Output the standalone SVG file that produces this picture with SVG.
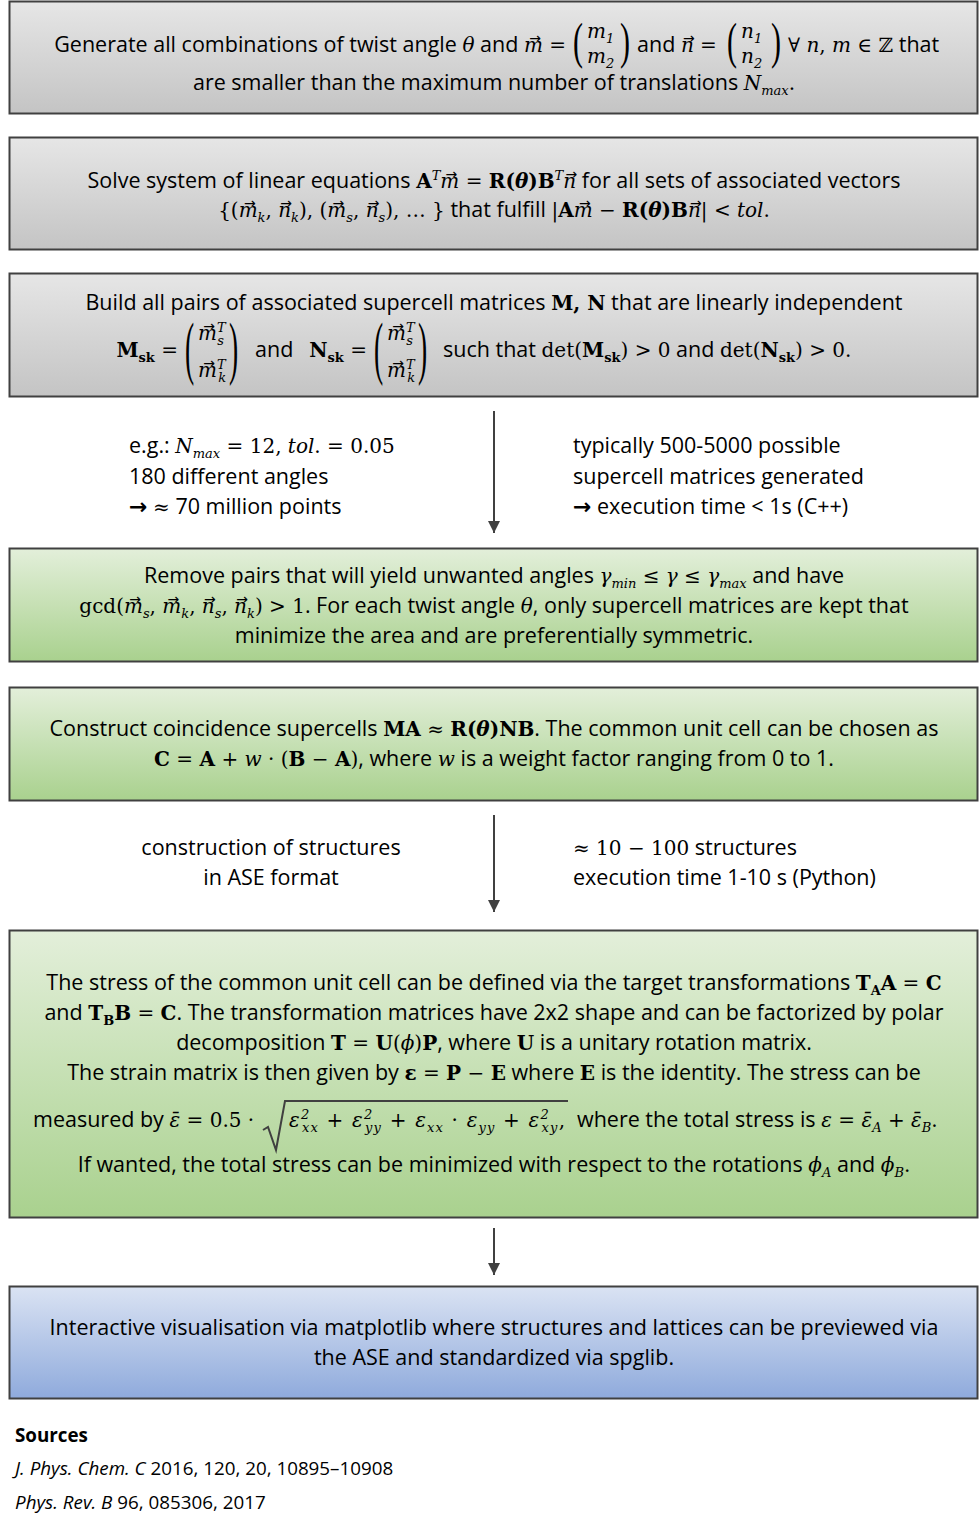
<svg xmlns="http://www.w3.org/2000/svg" width="979" height="1528" viewBox="0 0 979 1528">
<defs>
<linearGradient id="gGray" x1="0" y1="0" x2="0" y2="1"><stop offset="0" stop-color="#e6e6e6"/><stop offset="1" stop-color="#c4c4c4"/></linearGradient>
<linearGradient id="gGreen" x1="0" y1="0" x2="0" y2="1"><stop offset="0" stop-color="#e3efda"/><stop offset="1" stop-color="#a9d18e"/></linearGradient>
<linearGradient id="gBlue" x1="0" y1="0" x2="0" y2="1"><stop offset="0" stop-color="#dae3f3"/><stop offset="1" stop-color="#8faadc"/></linearGradient>
<marker id="ah" viewBox="0 0 10 10" refX="10" refY="5" markerWidth="12" markerHeight="12" markerUnits="userSpaceOnUse" orient="auto"><path d="M0,0 L10,5 L0,10 z" fill="#404040"/></marker>
<style>
.box{stroke:#404040;stroke-width:2}
.t{font-family:"Open Sans","Liberation Sans",sans-serif;font-size:21.5px;fill:#000}
.m{font-family:"DejaVu Serif",serif;font-style:italic;font-weight:normal;font-size:20px}
.r{font-family:"DejaVu Serif",serif;font-style:normal;font-weight:normal;font-size:20px}
.b{font-family:"DejaVu Serif",serif;font-weight:bold;font-style:normal;font-size:20px}
.s{font-size:13px}
.va{font-family:"DejaVu Sans",sans-serif;font-size:14px;font-style:normal;font-weight:normal}
.arr{font-family:"DejaVu Sans",sans-serif;font-size:22px;font-weight:bold}
.c{text-anchor:middle}
.e{text-anchor:end}
.p{font-family:"Liberation Serif",serif;font-size:50px}
.conn{stroke:#404040;stroke-width:2;fill:none}
.src{font-family:"Open Sans","Liberation Sans",sans-serif;font-size:18.8px;fill:#000}
</style>
</defs>
<rect width="979" height="1528" fill="#fff"/>

<g id="box-generate">
<rect class="box" x="9.5" y="1.5" width="968" height="112" fill="url(#gGray)"/>
<text class="t e" x="566" y="52">Generate all combinations of twist angle <tspan class="m">θ</tspan> and <tspan class="m">m</tspan><tspan class="va" dx="-13.75" dy="-9">→</tspan><tspan class="r" dx="2" dy="9"> =</tspan></text>
<text class="p" transform="translate(573,58) scale(0.6,1)">(</text>
<text class="t" x="587" y="38"><tspan class="m">m<tspan class="s" dy="5">1</tspan></tspan></text>
<text class="t" x="587" y="63"><tspan class="m">m<tspan class="s" dy="5">2</tspan></tspan></text>
<text class="p" transform="translate(620,58) scale(0.6,1)">)</text>
<text class="t" x="637" y="52">and <tspan class="m">n</tspan><tspan class="va" dx="-10.75" dy="-9">→</tspan><tspan class="r" dx="-1" dy="9"> =</tspan></text>
<text class="p" transform="translate(727,58) scale(0.6,1)">(</text>
<text class="t" x="741" y="38"><tspan class="m">n<tspan class="s" dy="5">1</tspan></tspan></text>
<text class="t" x="741" y="63"><tspan class="m">n<tspan class="s" dy="5">2</tspan></tspan></text>
<text class="p" transform="translate(771,58) scale(0.6,1)">)</text>
<text class="t" x="788" y="52"><tspan class="r">∀ </tspan><tspan class="m">n</tspan><tspan class="r">, </tspan><tspan class="m">m</tspan><tspan class="r"> ∈ ℤ</tspan> that</text>
<text class="t c" x="494" y="90">are smaller than the maximum number of translations <tspan class="m">N<tspan class="s" dy="5">max</tspan></tspan><tspan class="r" dy="-5">.</tspan></text>
</g>

<g id="box-solve">
<rect class="box" x="9.5" y="137.5" width="968" height="112" fill="url(#gGray)"/>
<text class="t c" x="494" y="188">Solve system of linear equations <tspan class="b">A</tspan><tspan class="m s" dy="-8">T</tspan><tspan class="m" dy="8">m</tspan><tspan class="va" dx="-13.75" dy="-9">→</tspan><tspan class="r" dx="2" dy="9"> = </tspan><tspan class="b">R(<tspan font-style="italic">θ</tspan>)B</tspan><tspan class="m s" dy="-8">T</tspan><tspan class="m" dy="8">n</tspan><tspan class="va" dx="-10.75" dy="-9">→</tspan><tspan dx="-1" dy="9">  for all sets of associated vectors</tspan></text>
<text class="t c" x="494" y="217"><tspan class="r">{(</tspan><tspan class="m">m</tspan><tspan class="va" dx="-13.75" dy="-9">→</tspan><tspan class="m s" dx="2" dy="14">k</tspan><tspan class="r" dy="-5">, </tspan><tspan class="m">n</tspan><tspan class="va" dx="-10.75" dy="-9">→</tspan><tspan class="m s" dx="-1" dy="14">k</tspan><tspan class="r" dy="-5">), (</tspan><tspan class="m">m</tspan><tspan class="va" dx="-13.75" dy="-9">→</tspan><tspan class="m s" dx="2" dy="14">s</tspan><tspan class="r" dy="-5">, </tspan><tspan class="m">n</tspan><tspan class="va" dx="-10.75" dy="-9">→</tspan><tspan class="m s" dx="-1" dy="14">s</tspan><tspan class="r" dy="-5">), … }</tspan> that fulfill <tspan class="r">|</tspan><tspan class="b">A</tspan><tspan class="m">m</tspan><tspan class="va" dx="-13.75" dy="-9">→</tspan><tspan class="r" dx="2" dy="9"> − </tspan><tspan class="b">R(<tspan font-style="italic">θ</tspan>)B</tspan><tspan class="m">n</tspan><tspan class="va" dx="-10.75" dy="-9">→</tspan><tspan class="r" dx="-1" dy="9">| &lt; </tspan><tspan class="m">tol</tspan><tspan class="r">.</tspan></text>
</g>

<g id="box-build">
<rect class="box" x="9.5" y="273.5" width="968" height="123" fill="url(#gGray)"/>
<text class="t c" x="494" y="310">Build all pairs of associated supercell matrices <tspan class="b">M, N</tspan> that are linearly independent</text>
<text class="t e" x="178" y="357"><tspan class="b">M<tspan class="s" dy="5">sk</tspan></tspan><tspan class="r" dy="-5"> =</tspan></text>
<text class="p" transform="translate(185,371) scale(0.55,1.4)">(</text>
<text class="t" x="198" y="340"><tspan class="m">m</tspan><tspan class="va" dx="-13.75" dy="-9">→</tspan><tspan class="m s" dx="2" dy="1">T</tspan><tspan class="m s" dx="-7.5" dy="13">s</tspan></text>
<text class="t" x="198" y="377"><tspan class="m">m</tspan><tspan class="va" dx="-13.75" dy="-9">→</tspan><tspan class="m s" dx="2" dy="1">T</tspan><tspan class="m s" dx="-7.5" dy="13">k</tspan></text>
<text class="p" transform="translate(229,371) scale(0.55,1.4)">)</text>
<text class="t" x="255" y="357">and</text>
<text class="t e" x="367" y="357"><tspan class="b">N<tspan class="s" dy="5">sk</tspan></tspan><tspan class="r" dy="-5"> =</tspan></text>
<text class="p" transform="translate(374,371) scale(0.55,1.4)">(</text>
<text class="t" x="387" y="340"><tspan class="m">m</tspan><tspan class="va" dx="-13.75" dy="-9">→</tspan><tspan class="m s" dx="2" dy="1">T</tspan><tspan class="m s" dx="-7.5" dy="13">s</tspan></text>
<text class="t" x="387" y="377"><tspan class="m">m</tspan><tspan class="va" dx="-13.75" dy="-9">→</tspan><tspan class="m s" dx="2" dy="1">T</tspan><tspan class="m s" dx="-7.5" dy="13">k</tspan></text>
<text class="p" transform="translate(418,371) scale(0.55,1.4)">)</text>
<text class="t" x="443" y="357">such that <tspan class="r">det(</tspan><tspan class="b">M<tspan class="s" dy="5">sk</tspan></tspan><tspan class="r" dy="-5">) &gt; 0</tspan> and <tspan class="r">det(</tspan><tspan class="b">N<tspan class="s" dy="5">sk</tspan></tspan><tspan class="r" dy="-5">) &gt; 0.</tspan></text>
</g>

<g id="note-left-1">
<text class="t" x="129" y="453">e.g.: <tspan class="m">N<tspan class="s" dy="5">max</tspan></tspan><tspan class="r" dy="-5"> = 12, </tspan><tspan class="m">tol</tspan><tspan class="r">. = 0.05</tspan></text>
<text class="t" x="129" y="484">180 different angles</text>
<text class="t" x="129" y="514"><tspan class="arr">→</tspan> <tspan class="r">≈</tspan> 70 million points</text>
</g>
<g id="note-right-1">
<text class="t" x="573" y="453">typically 500-5000 possible</text>
<text class="t" x="573" y="484">supercell matrices generated</text>
<text class="t" x="573" y="514"><tspan class="arr">→</tspan> execution time &lt; 1s (C++)</text>
</g>

<g id="box-remove">
<rect class="box" x="9.5" y="548.5" width="968" height="113" fill="url(#gGreen)"/>
<text class="t c" x="494" y="583">Remove pairs that will yield unwanted angles <tspan class="m">γ<tspan class="s" dy="5">min</tspan></tspan><tspan class="r" dy="-5"> ≤ </tspan><tspan class="m">γ</tspan><tspan class="r"> ≤ </tspan><tspan class="m">γ<tspan class="s" dy="5">max</tspan></tspan><tspan dy="-5"> and have</tspan></text>
<text class="t c" x="494" y="613"><tspan class="r">gcd(</tspan><tspan class="m">m</tspan><tspan class="va" dx="-13.75" dy="-9">→</tspan><tspan class="m s" dx="2" dy="14">s</tspan><tspan class="r" dy="-5">, </tspan><tspan class="m">m</tspan><tspan class="va" dx="-13.75" dy="-9">→</tspan><tspan class="m s" dx="2" dy="14">k</tspan><tspan class="r" dy="-5">, </tspan><tspan class="m">n</tspan><tspan class="va" dx="-10.75" dy="-9">→</tspan><tspan class="m s" dx="-1" dy="14">s</tspan><tspan class="r" dy="-5">, </tspan><tspan class="m">n</tspan><tspan class="va" dx="-10.75" dy="-9">→</tspan><tspan class="m s" dx="-1" dy="14">k</tspan><tspan class="r" dy="-5">) &gt; 1</tspan>. For each twist angle <tspan class="m">θ</tspan>, only supercell matrices are kept that</text>
<text class="t c" x="494" y="643">minimize the area and are preferentially symmetric.</text>
</g>

<g id="box-construct">
<rect class="box" x="9.5" y="687.5" width="968" height="113" fill="url(#gGreen)"/>
<text class="t c" x="494" y="736">Construct coincidence supercells <tspan class="b">MA</tspan><tspan class="r"> ≈ </tspan><tspan class="b">R(<tspan font-style="italic">θ</tspan>)NB</tspan>. The common unit cell can be chosen as</text>
<text class="t c" x="494" y="766"><tspan class="b">C</tspan><tspan class="r"> = </tspan><tspan class="b">A</tspan><tspan class="r"> + </tspan><tspan class="m">w</tspan><tspan class="r"> · (</tspan><tspan class="b">B</tspan><tspan class="r"> − </tspan><tspan class="b">A</tspan><tspan class="r">)</tspan>, where <tspan class="m">w</tspan> is a weight factor ranging from 0 to 1.</text>
</g>

<g id="note-left-2">
<text class="t c" x="271" y="855">construction of structures</text>
<text class="t c" x="271" y="885">in ASE format</text>
</g>
<g id="note-right-2">
<text class="t" x="573" y="855"><tspan class="r">≈ 10 − 100</tspan> structures</text>
<text class="t" x="573" y="885">execution time 1-10 s (Python)</text>
</g>

<g id="box-stress">
<rect class="box" x="9.5" y="930.5" width="968" height="287" fill="url(#gGreen)"/>
<text class="t c" x="494" y="990">The stress of the common unit cell can be defined via the target transformations <tspan class="b">T<tspan class="s" dy="5">A</tspan></tspan><tspan class="b" dy="-5">A</tspan><tspan class="r"> = </tspan><tspan class="b">C</tspan></text>
<text class="t c" x="494" y="1020">and <tspan class="b">T<tspan class="s" dy="5">B</tspan></tspan><tspan class="b" dy="-5">B</tspan><tspan class="r"> = </tspan><tspan class="b">C</tspan>. The transformation matrices have 2x2 shape and can be factorized by polar</text>
<text class="t c" x="494" y="1050">decomposition <tspan class="b">T</tspan><tspan class="r"> = </tspan><tspan class="b">U</tspan><tspan class="r">(</tspan><tspan class="m">ϕ</tspan><tspan class="r">)</tspan><tspan class="b">P</tspan>, where <tspan class="b">U</tspan> is a unitary rotation matrix.</text>
<text class="t c" x="494" y="1080">The strain matrix is then given by <tspan class="b">ε</tspan><tspan class="r"> = </tspan><tspan class="b">P</tspan><tspan class="r">  − </tspan><tspan class="b">E</tspan> where <tspan class="b">E</tspan> is the identity. The stress can be</text>
<text class="t" x="33" y="1127">measured by <tspan class="m">ε&#x0304;</tspan><tspan class="r"> = 0.5 ·</tspan></text>
<path class="conn" stroke-width="1.5" d="M263,1130 L268,1127 L276,1150 L285,1101 L568,1101"/>
<text class="t" x="289" y="1127" textLength="276" lengthAdjust="spacing"><tspan class="m">ε<tspan class="s" dy="-8">2</tspan><tspan class="s" dx="-8.3" dy="13">xx</tspan></tspan><tspan class="r" dy="-5"> + </tspan><tspan class="m">ε<tspan class="s" dy="-8">2</tspan><tspan class="s" dx="-8.3" dy="13">yy</tspan></tspan><tspan class="r" dy="-5"> + </tspan><tspan class="m">ε<tspan class="s" dy="5">xx</tspan></tspan><tspan class="r" dy="-5"> · </tspan><tspan class="m">ε<tspan class="s" dy="5">yy</tspan></tspan><tspan class="r" dy="-5"> + </tspan><tspan class="m">ε<tspan class="s" dy="-8">2</tspan><tspan class="s" dx="-8.3" dy="13">xy</tspan></tspan><tspan class="r" dy="-5">,</tspan></text>
<text class="t" x="577" y="1127">where the total stress is <tspan class="m">ε</tspan><tspan class="r"> = </tspan><tspan class="m">ε&#x0304;<tspan class="s" dy="5">A</tspan></tspan><tspan class="r" dy="-5"> + </tspan><tspan class="m">ε&#x0304;<tspan class="s" dy="5">B</tspan></tspan><tspan class="r" dy="-5">.</tspan></text>
<text class="t c" x="494" y="1172">If wanted, the total stress can be minimized with respect to the rotations <tspan class="m">ϕ<tspan class="s" dy="5">A</tspan></tspan><tspan dy="-5"> and </tspan><tspan class="m">ϕ<tspan class="s" dy="5">B</tspan></tspan><tspan class="r" dy="-5">.</tspan></text>
</g>

<g id="box-visualise">
<rect class="box" x="9.5" y="1286.5" width="968" height="112" fill="url(#gBlue)"/>
<text class="t c" x="494" y="1335">Interactive visualisation via matplotlib where structures and lattices can be previewed via</text>
<text class="t c" x="494" y="1365">the ASE and standardized via spglib.</text>
</g>

<g id="connectors">
<line class="conn" x1="494" y1="411" x2="494" y2="533" marker-end="url(#ah)"/>
<line class="conn" x1="494" y1="815" x2="494" y2="912" marker-end="url(#ah)"/>
<line class="conn" x1="494" y1="1228" x2="494" y2="1275" marker-end="url(#ah)"/>
</g>

<g id="sources">
<text class="src" x="15" y="1442" font-weight="bold">Sources</text>
<text class="src" x="15" y="1475"><tspan font-style="italic">J. Phys. Chem. C</tspan> 2016, 120, 20, 10895–10908</text>
<text class="src" x="15" y="1509"><tspan font-style="italic">Phys. Rev. B</tspan> 96, 085306, 2017</text>
</g>
</svg>
